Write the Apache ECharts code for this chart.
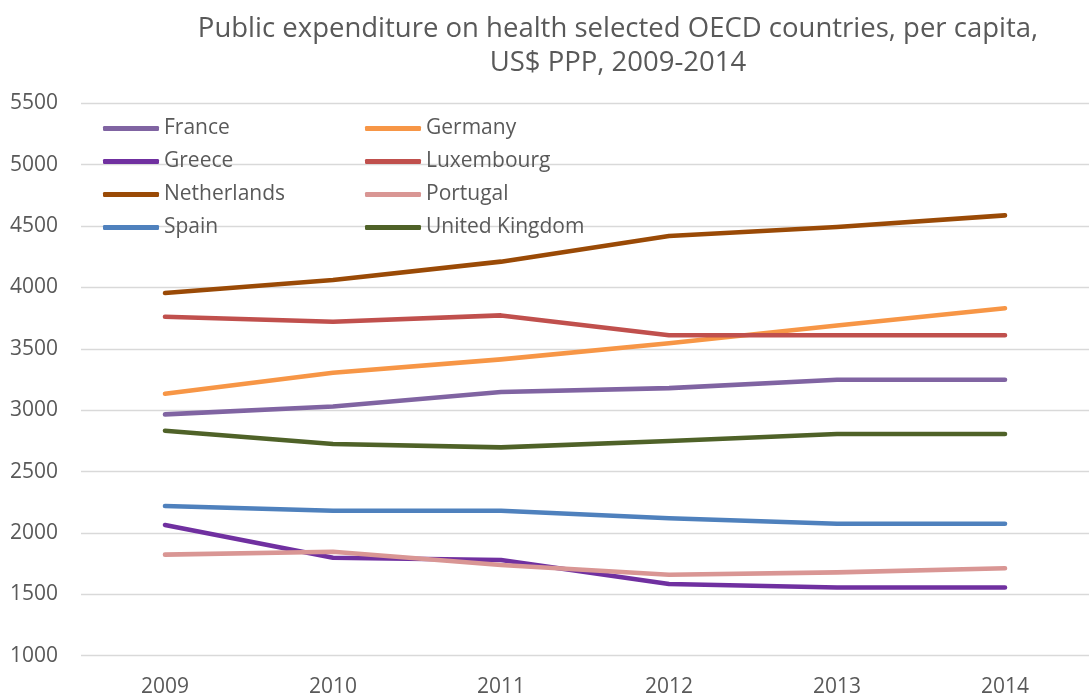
<!DOCTYPE html>
<html>
<head>
<meta charset="utf-8">
<title>Public expenditure on health</title>
<script src="https://cdn.jsdelivr.net/npm/echarts@6/dist/echarts.min.js"></script>
<style>
  html, body { margin: 0; padding: 0; background: #ffffff; }
  #chart { width: 1089px; height: 698px; }
</style>
</head>
<body>
<div id="chart"></div>
<script>
// Public health spending per capita (US$ PPP), 2009-2014
const years = ['2009', '2010', '2011', '2012', '2013', '2014'];

const france      = [2966, 3030, 3148, 3180, 3248, 3248];
const germany     = [3134, 3305, 3414, 3545, 3690, 3830];
const greece      = [2065, 1798, 1780, 1584, 1555, 1555];
const luxembourg  = [3761, 3721, 3772, 3610, 3610, 3610];
const netherlands = [3955, 4060, 4210, 4419, 4492, 4587];
const portugal    = [1823, 1847, 1739, 1660, 1679, 1712];
const spain       = [2219, 2181, 2181, 2120, 2075, 2075];
const uk          = [2833, 2724, 2697, 2749, 2806, 2806];

const countryNames = ['France', 'Germany', 'Greece', 'Luxembourg',
                      'Netherlands', 'Portugal', 'Spain', 'United Kingdom'];
const countryValues = [france, germany, greece, luxembourg,
                       netherlands, portugal, spain, uk];
const countryColors = ['#8064A2', '#F79646', '#7030A0', '#C0504D',
                       '#9A4A06', '#D99694', '#4F81BD', '#4F6228'];

const yTicks = { min: 1000, max: 5500, step: 500 };

const FONT = '"Open Sans", sans-serif';
const TEXT = '#595959';

const series = countryNames.map((name, i) => ({
  name: name,
  type: 'line',
  data: countryValues[i],
  symbol: 'none',
  smooth: false,
  color: countryColors[i],
  lineStyle: { width: 4.6, color: countryColors[i], cap: 'round', join: 'round' },
  emphasis: { disabled: true }
}));

function legendColumn(names, left) {
  return {
    orient: 'vertical',
    left: left,
    top: 118,
    padding: 0,
    data: names,
    icon: 'roundRect',
    itemWidth: 56,
    itemHeight: 5,
    itemGap: 12,
    itemTextGap: 2,
    textStyle: { color: TEXT, fontFamily: FONT, fontSize: 21, lineHeight: 20 },
    selectedMode: false
  };
}

const chart = echarts.init(document.getElementById('chart'), null, { renderer: 'canvas' });
chart.setOption({
  animation: false,
  backgroundColor: '#ffffff',
  title: {
    text: 'Public expenditure on health selected OECD countries, per capita,\nUS$ PPP, 2009-2014',
    left: 618,
    top: 12,
    padding: 0,
    textAlign: 'center',
    textStyle: {
      color: TEXT,
      fontFamily: FONT,
      fontSize: 27.5,
      fontWeight: 'normal',
      lineHeight: 34
    }
  },
  legend: [
    legendColumn(['France', 'Greece', 'Netherlands', 'Spain'], 103),
    legendColumn(['Germany', 'Luxembourg', 'Portugal', 'United Kingdom'], 365)
  ],
  grid: { left: 81, right: -3, top: 103.3, bottom: 42.3, containLabel: false },
  xAxis: {
    type: 'category',
    data: years,
    boundaryGap: true,
    axisLine: { show: false },
    axisTick: { show: false },
    axisLabel: { color: TEXT, fontFamily: FONT, fontSize: 21, margin: 21 }
  },
  yAxis: {
    type: 'value',
    min: yTicks.min,
    max: yTicks.max,
    interval: yTicks.step,
    axisLine: { show: false },
    axisTick: { show: false },
    axisLabel: {
      color: TEXT, fontFamily: FONT, fontSize: 21, margin: 23,
      formatter: (v) => String(v)
    },
    splitLine: { lineStyle: { color: '#D9D9D9', width: 1.3 } }
  },
  series: series
});
</script>
</body>
</html>
